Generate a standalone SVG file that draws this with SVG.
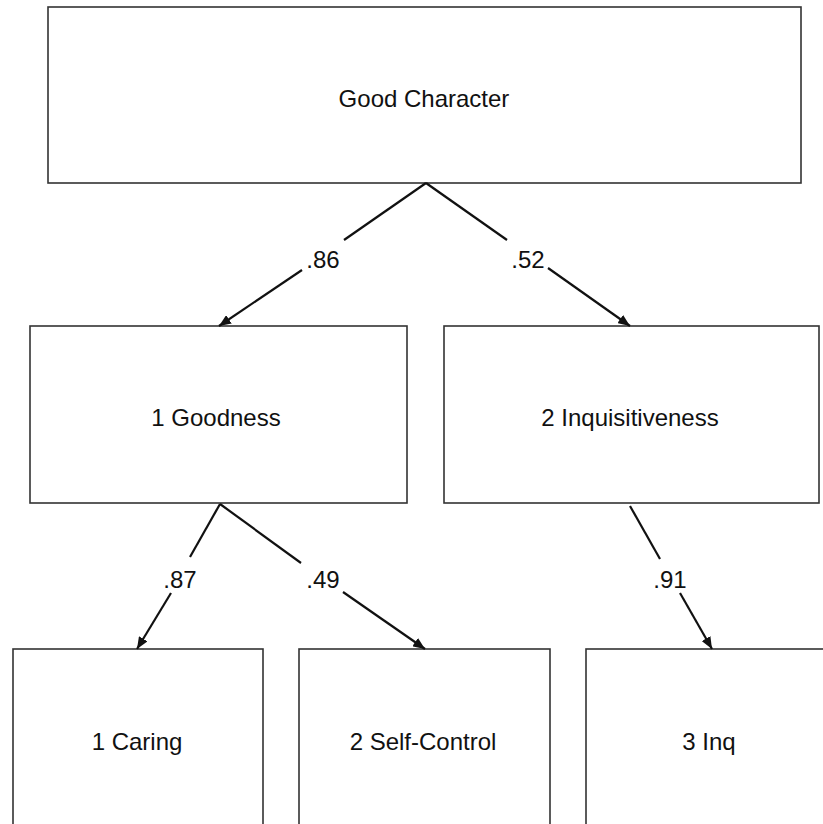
<svg xmlns="http://www.w3.org/2000/svg" width="823" height="824" viewBox="0 0 823 824">
<style>
.box{fill:#fff;stroke:#333;stroke-width:1.6}
.lbl{font-family:"Liberation Sans",Arial,sans-serif;font-size:24px;fill:#111;text-anchor:middle}
.edge{stroke:#111;stroke-width:2.2;fill:none}
</style>
<defs>
<marker id="arr" viewBox="0 0 12 10" refX="12" refY="5" markerWidth="12" markerHeight="10" markerUnits="userSpaceOnUse" orient="auto">
<path d="M0,0 L12,5 L0,10 z" fill="#111"/>
</marker>
</defs>
<rect width="823" height="824" fill="#fff"/>
<g id="node-good-character">
<rect class="box" x="48" y="7" width="753" height="176"/>
<text class="lbl" x="424" y="107">Good Character</text>
</g>
<g id="node-goodness">
<rect class="box" x="30" y="326" width="377" height="177"/>
<text class="lbl" x="216" y="426">1 Goodness</text>
</g>
<g id="node-inquisitiveness">
<rect class="box" x="444" y="326" width="375" height="177"/>
<text class="lbl" x="630" y="426">2 Inquisitiveness</text>
</g>
<g id="node-caring">
<rect class="box" x="13" y="649" width="250" height="190"/>
<text class="lbl" x="137" y="750">1 Caring</text>
</g>
<g id="node-self-control">
<rect class="box" x="299" y="649" width="251" height="190"/>
<text class="lbl" x="423" y="750">2 Self-Control</text>
</g>
<g id="node-inq">
<rect class="box" x="586" y="649" width="250" height="190"/>
<text class="lbl" x="709" y="750">3 Inq</text>
</g>
<g id="connectors">
<line class="edge" x1="426" y1="183" x2="344" y2="240"/>
<line class="edge" x1="302" y1="270" x2="219" y2="326" marker-end="url(#arr)"/>
<text class="lbl" x="323" y="268">.86</text>
<line class="edge" x1="426" y1="183" x2="507" y2="240"/>
<line class="edge" x1="548" y1="268" x2="630" y2="326" marker-end="url(#arr)"/>
<text class="lbl" x="528" y="268">.52</text>
<line class="edge" x1="220" y1="504" x2="190" y2="557"/>
<line class="edge" x1="171" y1="593" x2="137" y2="649" marker-end="url(#arr)"/>
<text class="lbl" x="180" y="588">.87</text>
<line class="edge" x1="220" y1="504" x2="301" y2="563"/>
<line class="edge" x1="343" y1="592" x2="425" y2="649" marker-end="url(#arr)"/>
<text class="lbl" x="323" y="588">.49</text>
<line class="edge" x1="630" y1="506" x2="660" y2="559"/>
<line class="edge" x1="680" y1="593" x2="712" y2="649" marker-end="url(#arr)"/>
<text class="lbl" x="670" y="588">.91</text>
</g>
</svg>
